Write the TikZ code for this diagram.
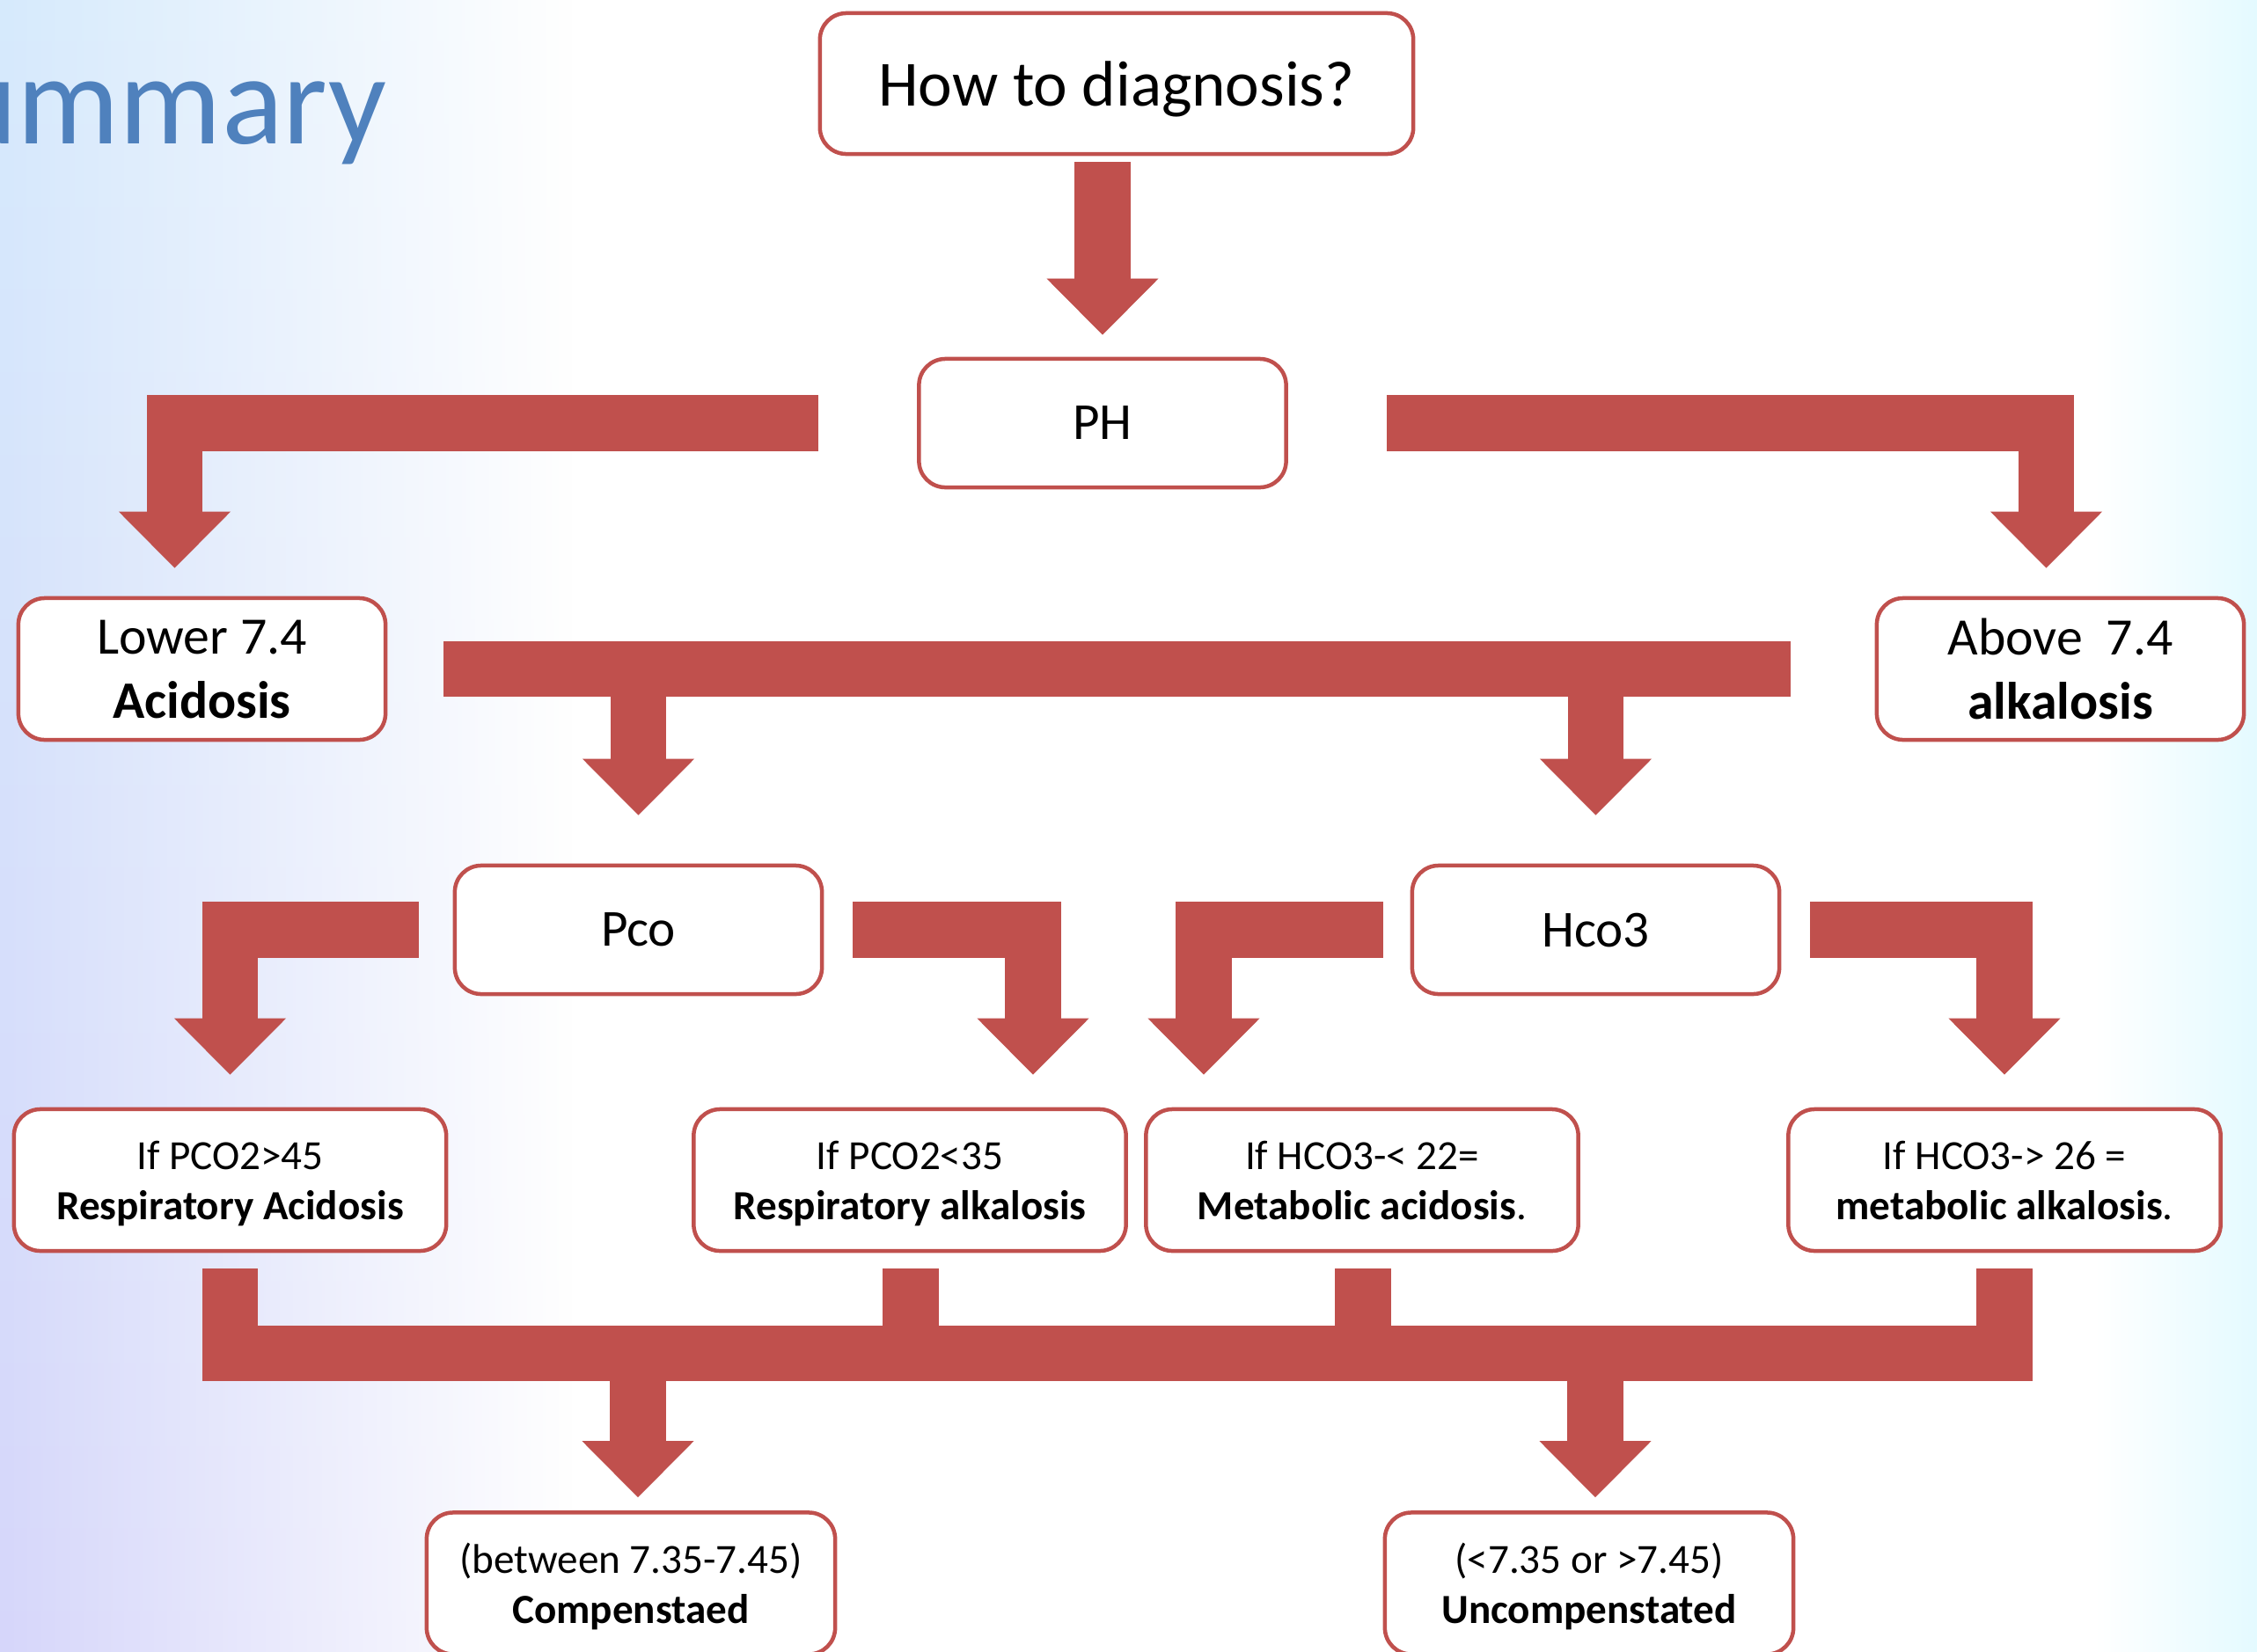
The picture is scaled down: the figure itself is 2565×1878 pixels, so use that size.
\documentclass[tikz,border=0pt]{standalone}
\usepackage{fontspec}
\setmainfont{Carlito}
\usetikzlibrary{arrows.meta,calc,fadings}
\definecolor{boxred}{RGB}{192,80,77}
\definecolor{titleblue}{RGB}{79,129,189}
\definecolor{bgblue}{RGB}{214,234,252}
\definecolor{bgmid}{RGB}{214,244,255}
\definecolor{bglav}{RGB}{214,214,250}
\definecolor{bgcyan}{RGB}{228,250,255}
\tikzfading[name=fadeout right, left color=transparent!0, right color=transparent!100]
\tikzset{
  box/.style={draw=boxred, line width=0.045cm, rounded corners=0.3cm, fill=white,
    align=center, inner sep=0pt, text depth=0pt},
  bigbox/.style={box, minimum width=4.17cm, minimum height=1.61cm,
    font=\fontsize{17}{20.8}\selectfont},
  midbox/.style={box, minimum width=4.17cm, minimum height=1.46cm,
    font=\fontsize{16.8}{20}\selectfont},
  smallbox/.style={box, minimum width=4.91cm, minimum height=1.61cm,
    font=\fontsize{13.4}{16.2}\selectfont},
  endbox/.style={box, minimum width=4.64cm, minimum height=1.61cm,
    font=\fontsize{13.4}{16.2}\selectfont},
  bar/.style={draw=boxred, line width=0.63cm, line join=miter},
  blk/.style={bar, -{Triangle[width=1.27cm,length=0.64cm,line width=0pt]}}
}
\begin{document}
\begin{tikzpicture}[x=0.01cm, y=-0.01cm]
\useasboundingbox (0,0) rectangle (2565,1878);
\clip (0,0) rectangle (2565,1878);
% background
\fill[white] (0,0) rectangle (2565,1878);
\shade[top color=bgblue, middle color=bgmid, bottom color=bglav, path fading=fadeout right] (0,0) rectangle (650,1878);
\shade[left color=white, right color=bgcyan] (2380,0) rectangle (2565,1878);
\node[anchor=base east, inner sep=0pt, text=titleblue,
      font=\fontsize{41.4}{44}\selectfont] (title) at (440,163) {Summary};

% boxes
\node[box, minimum width=6.74cm, minimum height=1.6cm,
      font=\fontsize{20.8}{24}\selectfont] (top) at (1269,95) {How to diagnosis?};
\node[midbox] (ph) at (1253,481) {PH};
\node[bigbox] (lower) at (229.5,760.5) {Lower 7.4\\\textbf{Acidosis}};
\node[bigbox] (above) at (2341.5,760.5) {Above~~7.4\\\textbf{alkalosis}};
\node[midbox] (pco) at (725.5,1057) {Pco};
\node[midbox] (hco) at (1813.5,1057) {Hco3};
\node[smallbox] (ra) at (261.5,1341.5) {If PCO2>45\\\textbf{Respiratory Acidosis}};
\node[smallbox] (ralk) at (1034,1341.5) {If PCO2<35\\\textbf{Respiratory alkalosis}};
\node[smallbox] (ma) at (1548,1341.5) {If HCO3-< 22=\\\textbf{Metabolic acidosis}.};
\node[smallbox] (malk) at (2278,1341.5) {If HCO3-> 26 =\\\textbf{metabolic alkalosis}.};
\node[endbox] (comp) at (717,1800) {(between 7.35-7.45)\\\textbf{Compenstaed}};
\node[endbox] (uncomp) at (1806,1800) {(<7.35 or >7.45)\\\textbf{Uncompenstated}};

% block arrows
\draw[blk] ($(ph.north |- top.south)+(0,7)$) -- ($(ph.north)+(0,-25)$);
\draw[blk] ($(ph.west)+(-112,0)$) -| ($(lower.north)+(-31,-32)$);
\draw[blk] ($(ph.east)+(112,0)$) -| ($(above.north)+(-16,-32)$);

\draw[bar] ($(lower.east)+(64,0)$) -- ($(above.west)+(-96,0)$);
\draw[blk] (pco.north |- lower.east) -- ($(pco.north)+(0,-55)$);
\draw[blk] (hco.north |- lower.east) -- ($(hco.north)+(0,-55)$);

\draw[blk] ($(pco.west)+(-39,0)$) -| ($(ra.north)+(0,-37)$);
\draw[blk] ($(pco.east)+(33,0)$) -| ($(ralk.north)+(140,-37)$);
\draw[blk] ($(hco.west)+(-31,0)$) -| ($(ma.north)+(-180,-37)$);
\draw[blk] ($(hco.east)+(33,0)$) -| ($(malk.north)+(0,-37)$);

\draw[bar] ($(ra.south)+(0,18)$) |- ($(malk.south)+(0,114)$) -- ($(malk.south)+(0,18)$);
\draw[bar] ($(ralk.south)+(1,18)$) -- ++(0,96);
\draw[bar] ($(ma.south)+(1,18)$) -- ++(0,96);
\draw[blk] ($(comp.north)+(8,-183)$) -- ($(comp.north)+(8,-15)$);
\draw[blk] ($(uncomp.north)+(7,-183)$) -- ($(uncomp.north)+(7,-15)$);
\end{tikzpicture}
\end{document}
